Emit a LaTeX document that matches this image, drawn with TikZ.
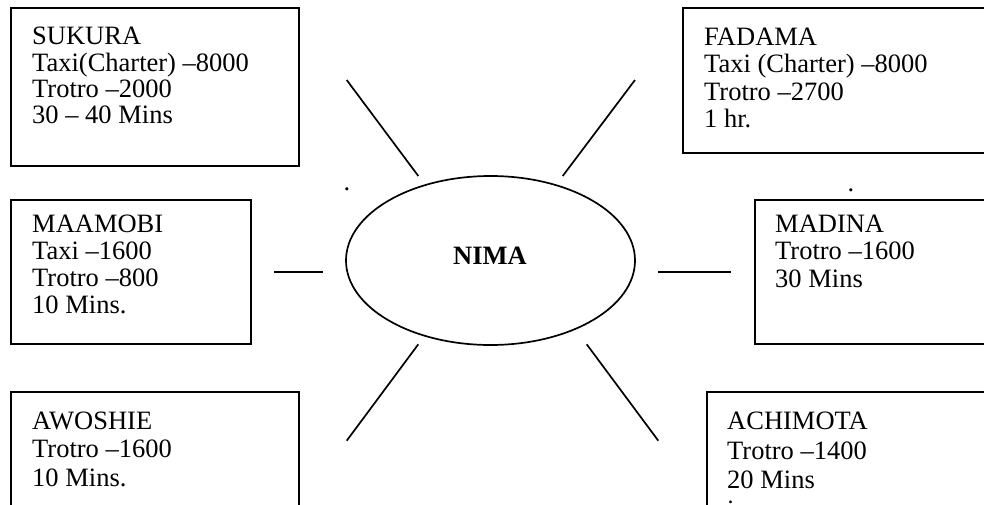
\documentclass[tikz,border=0pt]{standalone}
\usepackage{fontspec}
\setmainfont{Liberation Serif}
\usetikzlibrary{calc,shapes.geometric}
\newcommand{\stopfont}[1]{\fontsize{26.5}{#1}\selectfont}
\begin{document}
\begin{tikzpicture}[x=1pt,y=-1pt,
  stopbox/.style={draw, line width=1.9pt, rectangle, inner sep=0pt, outer sep=0pt, anchor=north west},
  stoptext/.style={anchor=north west, align=left, inner sep=0pt},
  spoke/.style={line width=1.7pt},
  hub/.style={draw, ellipse, line width=1.7pt, inner sep=0pt, minimum width=289pt, minimum height=169pt},
  stray/.style={inner sep=0pt, anchor=base, font=\stopfont{27}},
]
\clip (0,0) rectangle (984,505);
\fill[white] (0,0) rectangle (984,505);

% destination boxes
\node[stopbox, minimum width=288pt, minimum height=158pt] (sukura) at (11,8) {};
\node[stoptext, font=\stopfont{26.3}] (sukuraT) at ($(sukura.north west)+(21,19)$)
  {SUKURA\\Taxi(Charter) –8000\\Trotro –2000\\30 – 40 Mins};

\node[stopbox, minimum width=330pt, minimum height=145pt] (fadama) at (683,8) {};
\node[stoptext, font=\stopfont{27.5}] (fadamaT) at ($(fadama.north west)+(21,19.5)$)
  {FADAMA\\Taxi (Charter) –8000\\Trotro –2700\\1 hr.};

\node[stopbox, minimum width=240pt, minimum height=144pt] (maamobi) at (11,200) {};
\node[stoptext, font=\stopfont{27}] (maamobiT) at ($(maamobi.north west)+(21,14.5)$)
  {MAAMOBI\\Taxi –1600\\Trotro –800\\10 Mins.};

\node[stopbox, minimum width=260pt, minimum height=144pt] (madina) at (755,200) {};
\node[stoptext, font=\stopfont{27.5}] (madinaT) at ($(madina.north west)+(20,14.5)$)
  {MADINA\\Trotro –1600\\30 Mins};

\node[stopbox, minimum width=288pt, minimum height=150pt] (awoshie) at (11,392) {};
\node[stoptext, font=\stopfont{28.5}] (awoshieT) at ($(awoshie.north west)+(21,19.5)$)
  {AWOSHIE\\Trotro –1600\\10 Mins.};

\node[stopbox, minimum width=300pt, minimum height=150pt] (achimota) at (707,392) {};
\node[stoptext, font=\stopfont{29.5}] (achimotaT) at ($(achimota.north west)+(20,20)$)
  {ACHIMOTA\\Trotro –1400\\20 Mins\\i};

% central hub
\node[hub] (nima) at (490.5,260.5) {};
\node[font=\stopfont{27}\bfseries, inner sep=0pt] (nimaT) at (490,256) {NIMA};

% stray full stops
\node[stray] (dotL) at (347,190.5) {.};
\node[stray] (dotR) at (851,191.5) {.};

% spokes
\coordinate (ulA) at (346.7,80);   \coordinate (ulB) at (418.3,176);
\coordinate (urA) at (635,80);     \coordinate (urB) at (562.7,176);
\coordinate (llA) at (418.3,344.3);\coordinate (llB) at (346.7,440.7);
\coordinate (lrA) at (586.7,344.3);\coordinate (lrB) at (658.3,440.7);
\coordinate (wA) at (274,272);     \coordinate (wB) at (323,272);
\coordinate (eA) at (658,272);     \coordinate (eB) at (731,272);
\draw[spoke] (ulA) -- (ulB);
\draw[spoke] (urA) -- (urB);
\draw[spoke] (llA) -- (llB);
\draw[spoke] (lrA) -- (lrB);
\draw[spoke] (wA) -- (wB);
\draw[spoke] (eA) -- (eB);
\end{tikzpicture}
\end{document}
